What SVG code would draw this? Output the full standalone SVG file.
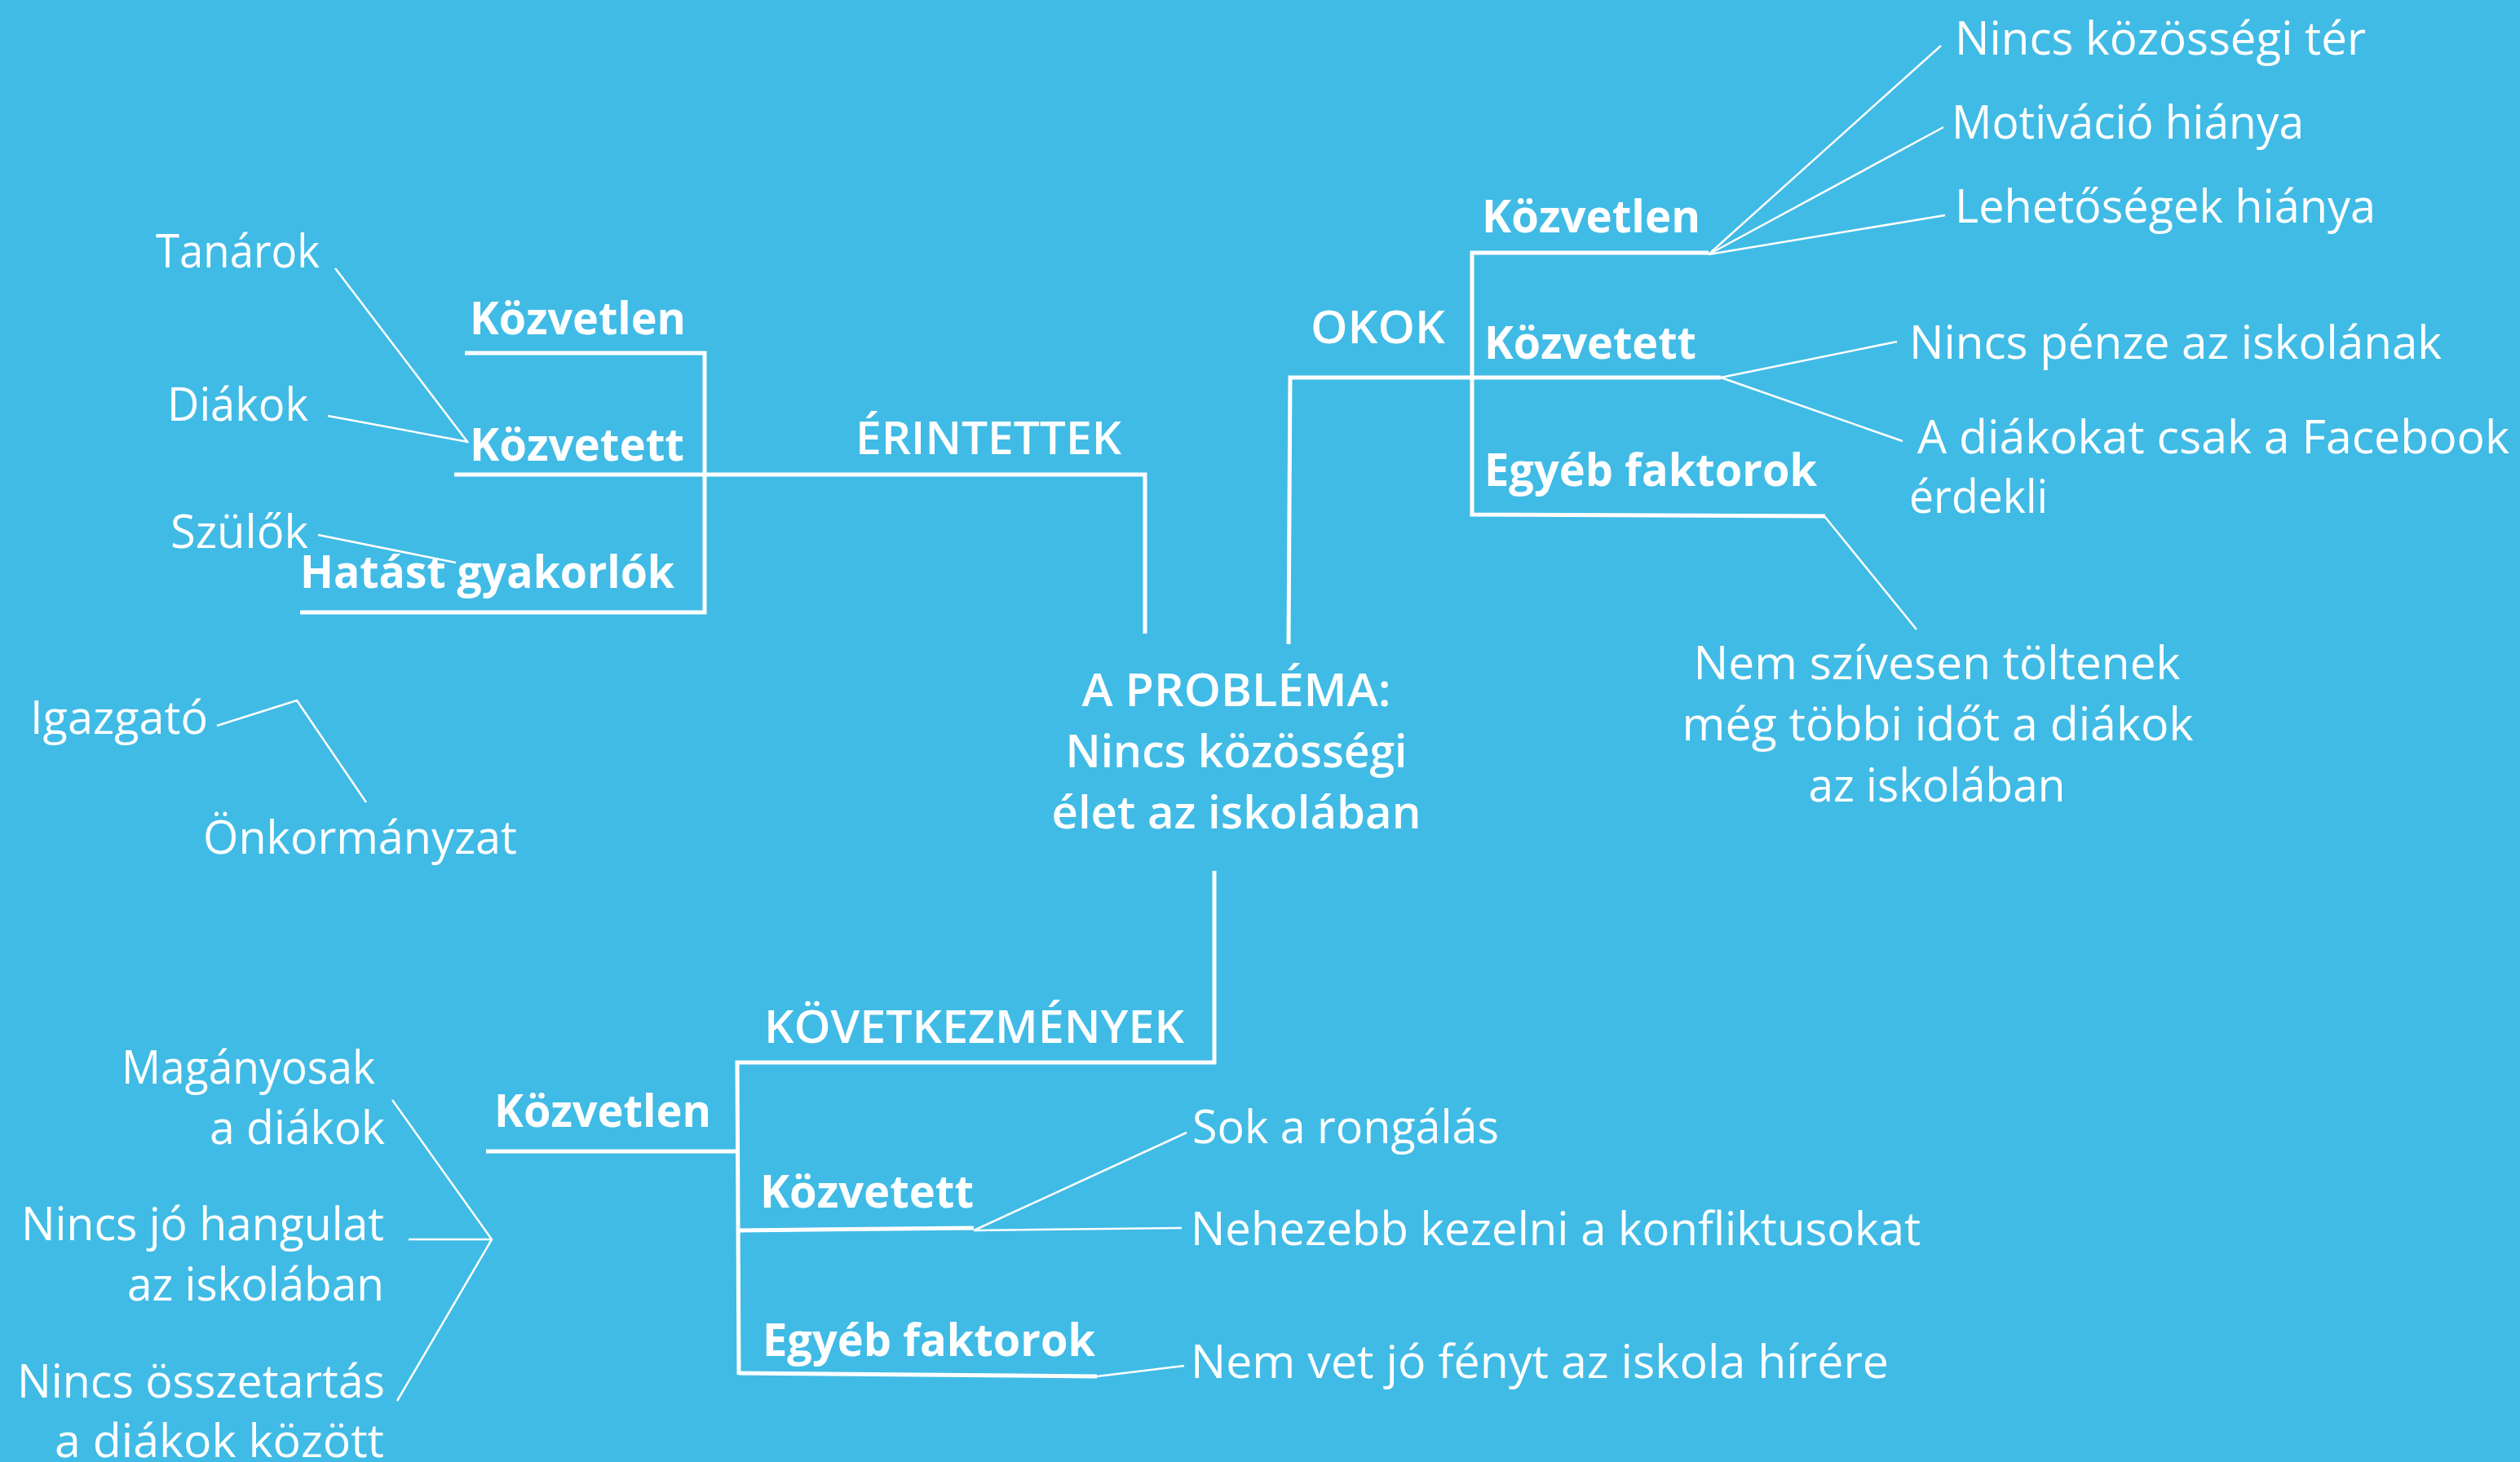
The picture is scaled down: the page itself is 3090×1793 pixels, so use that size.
<svg xmlns="http://www.w3.org/2000/svg" width="3090" height="1793" viewBox="0 0 3090 1793">
<style>
text{font-family:"Open Sans","Noto Sans","DejaVu Sans",sans-serif;fill:#ffffff;font-size:56px}
.b{font-weight:700}
.h{font-weight:600}
.e{text-anchor:end}
.m{text-anchor:middle}
.main{fill:none;stroke:#ffffff;stroke-width:5;stroke-linejoin:miter;stroke-linecap:butt}
.lead{fill:none;stroke:#ffffff;stroke-width:2.5;stroke-linejoin:miter}
</style>
<rect x="0" y="0" width="3090" height="1793" fill="#40BBE5"/>
<g id="connectors">
<!-- Érintettek structure -->
<polyline class="main" points="1404,777 1404,582 557,582"/>
<polyline class="main" points="570,433 864,433 864,751 368,751"/>
<line class="lead" x1="411" y1="329" x2="574" y2="543"/>
<line class="lead" x1="402" y1="510" x2="574" y2="542"/>
<line class="lead" x1="390" y1="656" x2="559" y2="690"/>
<polyline class="lead" points="266,890 364,859 449,984"/>
<!-- Okok structure -->
<polyline class="main" points="1580,790 1582,463 2110,463"/>
<polyline class="main" points="2095,310 1805,310 1805,631 2238,633"/>
<line class="lead" x1="2095" y1="312" x2="2380" y2="56"/>
<line class="lead" x1="2095" y1="312" x2="2383" y2="156"/>
<line class="lead" x1="2095" y1="312" x2="2385" y2="264"/>
<line class="lead" x1="2110" y1="463" x2="2326" y2="419"/>
<line class="lead" x1="2110" y1="463" x2="2333" y2="541"/>
<line class="lead" x1="2237" y1="633" x2="2350" y2="772"/>
<!-- Következmények structure -->
<polyline class="main" points="1489,1068 1489,1303 904,1303 906,1686"/>
<line class="main" x1="596" y1="1412" x2="906" y2="1412"/>
<line class="main" x1="906" y1="1509" x2="1194" y2="1506"/>
<line class="main" x1="906" y1="1684" x2="1345" y2="1688"/>
<polyline class="lead" points="1455,1389 1194,1509 1449,1506"/>
<line class="lead" x1="1345" y1="1688" x2="1452" y2="1675"/>
<polyline class="lead" points="481,1349 603,1520 487,1718"/>
<line class="lead" x1="501" y1="1520" x2="603" y2="1520"/>
</g>
<g id="problem">
<text class="h m" x="1516" y="866" textLength="379" lengthAdjust="spacingAndGlyphs">A PROBLÉMA:</text>
<text class="h m" x="1516" y="941" textLength="419" lengthAdjust="spacingAndGlyphs">Nincs közösségi</text>
<text class="h m" x="1516" y="1016" textLength="453" lengthAdjust="spacingAndGlyphs">élet az iskolában</text>
</g>
<g id="erintettek">
<text class="h" x="1049" y="557" textLength="326" lengthAdjust="spacingAndGlyphs">ÉRINTETTEK</text>
</g>
<g id="erintettek-kozvetlen"><text class="b" x="576" y="410" textLength="265" lengthAdjust="spacingAndGlyphs">Közvetlen</text></g>
<g id="erintettek-kozvetett"><text class="b" x="576" y="565" textLength="263" lengthAdjust="spacingAndGlyphs">Közvetett</text></g>
<g id="erintettek-hatast"><text class="b" x="368" y="721" textLength="459" lengthAdjust="spacingAndGlyphs">Hatást gyakorlók</text></g>
<g id="tanarok"><text x="191" y="328" textLength="201" lengthAdjust="spacingAndGlyphs">Tanárok</text></g>
<g id="diakok"><text x="205" y="516" textLength="173" lengthAdjust="spacingAndGlyphs">Diákok</text></g>
<g id="szulok"><text x="209" y="672" textLength="169" lengthAdjust="spacingAndGlyphs">Szülők</text></g>
<g id="igazgato"><text x="37" y="900" textLength="218" lengthAdjust="spacingAndGlyphs">Igazgató</text></g>
<g id="onkormanyzat"><text x="249" y="1047" textLength="385" lengthAdjust="spacingAndGlyphs">Önkormányzat</text></g>
<g id="okok">
<text class="h" x="1607" y="421" textLength="165" lengthAdjust="spacingAndGlyphs">OKOK</text>
</g>
<g id="okok-kozvetlen"><text class="b" x="1817" y="285" textLength="268" lengthAdjust="spacingAndGlyphs">Közvetlen</text></g>
<g id="okok-kozvetett"><text class="b" x="1820" y="440" textLength="260" lengthAdjust="spacingAndGlyphs">Közvetett</text></g>
<g id="okok-egyeb"><text class="b" x="1820" y="596" textLength="408" lengthAdjust="spacingAndGlyphs">Egyéb faktorok</text></g>
<g id="nincs-kozossegi-ter"><text x="2397" y="67" textLength="504" lengthAdjust="spacingAndGlyphs">Nincs közösségi tér</text></g>
<g id="motivacio"><text x="2393" y="170" textLength="432" lengthAdjust="spacingAndGlyphs">Motiváció hiánya</text></g>
<g id="lehetosegek"><text x="2397" y="273" textLength="516" lengthAdjust="spacingAndGlyphs">Lehetőségek hiánya</text></g>
<g id="nincs-penze"><text x="2341" y="440" textLength="653" lengthAdjust="spacingAndGlyphs">Nincs pénze az iskolának</text></g>
<g id="facebook">
<text x="2351" y="556" textLength="726" lengthAdjust="spacingAndGlyphs">A diákokat csak a Facebook</text>
<text x="2341" y="629" textLength="170" lengthAdjust="spacingAndGlyphs">érdekli</text>
</g>
<g id="nem-szivesen">
<text class="m" x="2375" y="833" textLength="597" lengthAdjust="spacingAndGlyphs">Nem szívesen töltenek</text>
<text class="m" x="2376" y="908" textLength="627" lengthAdjust="spacingAndGlyphs">még többi időt a diákok</text>
<text class="m" x="2375" y="983" textLength="315" lengthAdjust="spacingAndGlyphs">az iskolában</text>
</g>
<g id="kovetkezmenyek">
<text class="h" x="937" y="1279" textLength="515" lengthAdjust="spacingAndGlyphs">KÖVETKEZMÉNYEK</text>
</g>
<g id="kov-kozvetlen"><text class="b" x="606" y="1382" textLength="266" lengthAdjust="spacingAndGlyphs">Közvetlen</text></g>
<g id="kov-kozvetett"><text class="b" x="932" y="1481" textLength="262" lengthAdjust="spacingAndGlyphs">Közvetett</text></g>
<g id="kov-egyeb"><text class="b" x="935" y="1663" textLength="408" lengthAdjust="spacingAndGlyphs">Egyéb faktorok</text></g>
<g id="maganyosak">
<text class="e" x="460" y="1329" textLength="311" lengthAdjust="spacingAndGlyphs">Magányosak</text>
<text class="e" x="472" y="1403" textLength="215" lengthAdjust="spacingAndGlyphs">a diákok</text>
</g>
<g id="hangulat">
<text class="e" x="471" y="1521" textLength="445" lengthAdjust="spacingAndGlyphs">Nincs jó hangulat</text>
<text class="e" x="471" y="1595" textLength="315" lengthAdjust="spacingAndGlyphs">az iskolában</text>
</g>
<g id="osszetartas">
<text class="e" x="472" y="1714" textLength="451" lengthAdjust="spacingAndGlyphs">Nincs összetartás</text>
<text class="e" x="471" y="1787" textLength="404" lengthAdjust="spacingAndGlyphs">a diákok között</text>
</g>
<g id="rongalas"><text x="1462" y="1402" textLength="376" lengthAdjust="spacingAndGlyphs">Sok a rongálás</text></g>
<g id="konfliktus"><text x="1460" y="1527" textLength="895" lengthAdjust="spacingAndGlyphs">Nehezebb kezelni a konfliktusokat</text></g>
<g id="hirere"><text x="1460" y="1690" textLength="856" lengthAdjust="spacingAndGlyphs">Nem vet jó fényt az iskola hírére</text></g>
</svg>
